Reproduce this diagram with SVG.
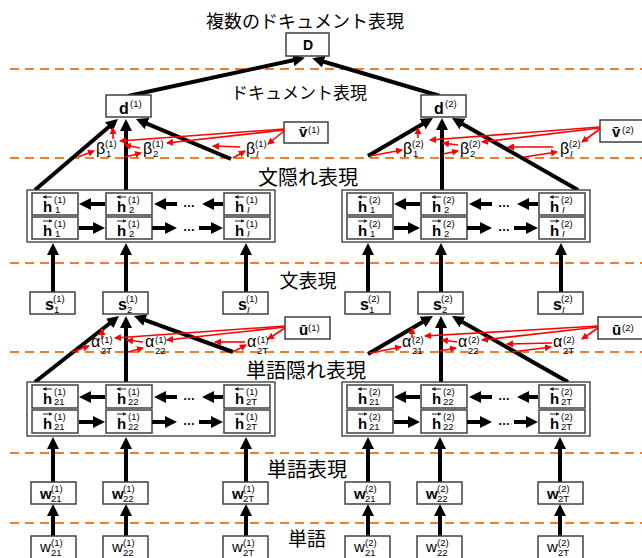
<svg xmlns="http://www.w3.org/2000/svg" width="642" height="558" viewBox="0 0 642 558">
<style>
.dash{stroke:#ED7D31;stroke-width:2;stroke-dasharray:9 6;fill:none}
.box{fill:#fff;stroke:#404040;stroke-width:1.5}
.outer{fill:#fff;stroke:#333;stroke-width:1.3}
.blk{stroke:#000;stroke-width:4;fill:none;marker-end:url(#ah)}
.red{stroke:#f00;stroke-width:1.6;fill:none;marker-end:url(#rh)}
.ha{stroke:#222;stroke-width:1;fill:none;marker-end:url(#hh)}
text{font-family:"Liberation Sans",Arial,sans-serif;fill:#000}
.jp{font-family:"Noto Sans CJK JP",sans-serif;text-anchor:middle}
.b{font-weight:bold}
.h{font-weight:bold;font-size:15px}
.sm{font-size:9.5px;font-weight:normal;font-style:normal}
.gr{font-size:16px}
.it{font-style:italic}
.dots{font-weight:bold;font-size:12px;text-anchor:middle}
</style>
<defs>
<marker id="ah" markerUnits="userSpaceOnUse" markerWidth="12" markerHeight="12" refX="6" refY="6" orient="auto"><path d="M0,0 L12,6 L0,12 z" fill="#000"/></marker>
<marker id="rh" markerUnits="userSpaceOnUse" markerWidth="7" markerHeight="7" refX="6" refY="3.5" orient="auto"><path d="M0,0 L7,3.5 L0,7 z" fill="#f00"/></marker>
<marker id="hh" markerUnits="userSpaceOnUse" markerWidth="4" markerHeight="4" refX="3.5" refY="2" orient="auto"><path d="M0,0 L4,2 L0,4 z" fill="#222"/></marker>
</defs>
<rect width="642" height="558" fill="#fff"/>

<g id="layer-lines">
<line class="dash" x1="10" y1="69" x2="642" y2="69"/>
<line class="dash" x1="10" y1="158" x2="642" y2="158"/>
<line class="dash" x1="10" y1="263" x2="642" y2="263"/>
<line class="dash" x1="10" y1="352" x2="642" y2="352"/>
<line class="dash" x1="10" y1="453" x2="642" y2="453"/>
<line class="dash" x1="10" y1="523" x2="642" y2="523"/>
</g>

<g id="layer-labels">
<text class="jp" x="305" y="28" font-size="18">複数のドキュメント表現</text>
<text class="jp" x="299" y="99" font-size="17">ドキュメント表現</text>
<text class="jp" x="308" y="185" font-size="20">文隠れ表現</text>
<text class="jp" x="308" y="288" font-size="19">文表現</text>
<text class="jp" x="306" y="378" font-size="20">単語隠れ表現</text>
<text class="jp" x="307" y="477" font-size="20">単語表現</text>
<text class="jp" x="307" y="546" font-size="19">単語</text>
</g>

<g id="connectors">
<line class="blk" x1="128" y1="96" x2="299" y2="59"/>
<line class="blk" x1="440" y1="96" x2="318" y2="60"/>
<line class="blk" x1="35" y1="190" x2="113.4" y2="122.9"/>
<line class="blk" x1="126" y1="190" x2="126" y2="125"/>
<line class="blk" x1="231" y1="159" x2="141.5" y2="121.3"/>
<line class="blk" x1="368" y1="156" x2="427.8" y2="121"/>
<line class="blk" x1="442" y1="190" x2="442" y2="124"/>
<line class="blk" x1="578" y1="190" x2="457.2" y2="121"/>
<line class="blk" x1="53" y1="292" x2="53" y2="249"/>
<line class="blk" x1="126" y1="292" x2="126" y2="249"/>
<line class="blk" x1="246" y1="292" x2="246" y2="249"/>
<line class="blk" x1="368" y1="292" x2="368" y2="249"/>
<line class="blk" x1="441" y1="292" x2="441" y2="249"/>
<line class="blk" x1="561" y1="292" x2="561" y2="249"/>
<line class="blk" x1="35" y1="382" x2="114.3" y2="319.7"/>
<line class="blk" x1="126" y1="382" x2="126" y2="322"/>
<line class="blk" x1="233" y1="352" x2="139.6" y2="318.1"/>
<line class="blk" x1="368" y1="354" x2="427.8" y2="319"/>
<line class="blk" x1="441" y1="382" x2="441" y2="322"/>
<line class="blk" x1="568" y1="382" x2="457.2" y2="319"/>
<line class="blk" x1="53" y1="482" x2="53" y2="443"/>
<line class="blk" x1="126" y1="482" x2="126" y2="443"/>
<line class="blk" x1="246" y1="482" x2="246" y2="443"/>
<line class="blk" x1="368" y1="482" x2="368" y2="443"/>
<line class="blk" x1="440" y1="482" x2="440" y2="443"/>
<line class="blk" x1="560" y1="482" x2="560" y2="443"/>
<line class="blk" x1="53" y1="536" x2="53" y2="510"/>
<line class="blk" x1="126" y1="536" x2="126" y2="510"/>
<line class="blk" x1="246" y1="536" x2="246" y2="510"/>
<line class="blk" x1="368" y1="536" x2="368" y2="510"/>
<line class="blk" x1="440" y1="536" x2="440" y2="510"/>
<line class="blk" x1="560" y1="536" x2="560" y2="510"/>
</g>

<g id="node-D"><rect class="box" x="286" y="33" width="43" height="23"/><text class="b" x="308" y="50" font-size="14" text-anchor="middle">D</text></g>
<g id="node-d1"><rect class="box" x="106" y="95" width="45" height="22"/><text class="b" x="119" y="114" font-size="16">d<tspan class="sm" x="130" y="107">(1)</tspan></text></g>
<g id="node-d2"><rect class="box" x="421" y="95" width="45" height="22"/><text class="b" x="434" y="114" font-size="16">d<tspan class="sm" x="445" y="107">(2)</tspan></text></g>
<g id="node-v1"><rect class="box" x="284" y="122" width="44" height="21"/><text class="b" x="299" y="137" font-size="15">v&#x304;<tspan class="sm" x="308" y="133">(1)</tspan></text></g>
<g id="node-v2"><rect class="box" x="600" y="120" width="50" height="22"/><text class="b" x="612" y="137" font-size="15">v&#x304;<tspan class="sm" x="622" y="133">(2)</tspan></text></g>
<g id="node-u1"><rect class="box" x="285" y="317" width="45" height="22"/><text class="b" x="299" y="335" font-size="15">ū<tspan class="sm" x="308" y="331">(1)</tspan></text></g>
<g id="node-u2"><rect class="box" x="598" y="317" width="50" height="22"/><text class="b" x="612" y="335" font-size="15">ū<tspan class="sm" x="622" y="331">(2)</tspan></text></g>

<g id="node-sent-hidden-1">
<rect class="outer" x="27" y="190" width="248" height="52"/>
<rect class="box" x="32" y="193" width="46" height="22"/><path class="ha" d="M52,197 H43"/><text class="h" x="43" y="212">h<tspan class="sm" x="54" y="203">(1)</tspan><tspan class="sm" x="55" y="213">1</tspan></text>
<rect class="box" x="106" y="193" width="46" height="22"/><path class="ha" d="M126,197 H117"/><text class="h" x="117" y="212">h<tspan class="sm" x="128" y="203">(1)</tspan><tspan class="sm" x="129" y="213">2</tspan></text>
<rect class="box" x="224" y="193" width="46" height="22"/><path class="ha" d="M244,197 H235"/><text class="h" x="235" y="212">h<tspan class="sm" x="246" y="203">(1)</tspan><tspan class="sm it" x="247" y="213">I</tspan></text>
<rect class="box" x="32" y="217" width="46" height="22"/><path class="ha" d="M43,221 H52"/><text class="h" x="43" y="236">h<tspan class="sm" x="54" y="227">(1)</tspan><tspan class="sm" x="55" y="237">1</tspan></text>
<rect class="box" x="106" y="217" width="46" height="22"/><path class="ha" d="M117,221 H126"/><text class="h" x="117" y="236">h<tspan class="sm" x="128" y="227">(1)</tspan><tspan class="sm" x="129" y="237">2</tspan></text>
<rect class="box" x="224" y="217" width="46" height="22"/><path class="ha" d="M235,221 H244"/><text class="h" x="235" y="236">h<tspan class="sm" x="246" y="227">(1)</tspan><tspan class="sm it" x="247" y="237">I</tspan></text>
<text class="dots" x="189" y="207">…</text><text class="dots" x="189" y="231">…</text>
</g>
<g id="node-sent-hidden-2">
<rect class="outer" x="342" y="190" width="248" height="52"/>
<rect class="box" x="347" y="193" width="46" height="22"/><path class="ha" d="M367,197 H358"/><text class="h" x="358" y="212">h<tspan class="sm" x="369" y="203">(2)</tspan><tspan class="sm" x="370" y="213">1</tspan></text>
<rect class="box" x="421" y="193" width="46" height="22"/><path class="ha" d="M441,197 H432"/><text class="h" x="432" y="212">h<tspan class="sm" x="443" y="203">(2)</tspan><tspan class="sm" x="444" y="213">2</tspan></text>
<rect class="box" x="539" y="193" width="46" height="22"/><path class="ha" d="M559,197 H550"/><text class="h" x="550" y="212">h<tspan class="sm" x="561" y="203">(2)</tspan><tspan class="sm it" x="562" y="213">I</tspan></text>
<rect class="box" x="347" y="217" width="46" height="22"/><path class="ha" d="M358,221 H367"/><text class="h" x="358" y="236">h<tspan class="sm" x="369" y="227">(2)</tspan><tspan class="sm" x="370" y="237">1</tspan></text>
<rect class="box" x="421" y="217" width="46" height="22"/><path class="ha" d="M432,221 H441"/><text class="h" x="432" y="236">h<tspan class="sm" x="443" y="227">(2)</tspan><tspan class="sm" x="444" y="237">2</tspan></text>
<rect class="box" x="539" y="217" width="46" height="22"/><path class="ha" d="M550,221 H559"/><text class="h" x="550" y="236">h<tspan class="sm" x="561" y="227">(2)</tspan><tspan class="sm it" x="562" y="237">I</tspan></text>
<text class="dots" x="504" y="207">…</text><text class="dots" x="504" y="231">…</text>
</g>

<g id="node-word-hidden-1">
<rect class="outer" x="27" y="382" width="248" height="54"/>
<rect class="box" x="32" y="385" width="46" height="23"/><path class="ha" d="M52,389 H43"/><text class="h" x="43" y="404">h<tspan class="sm" x="54" y="395">(1)</tspan><tspan class="sm" x="54" y="405">21</tspan></text>
<rect class="box" x="106" y="385" width="46" height="23"/><path class="ha" d="M126,389 H117"/><text class="h" x="117" y="404">h<tspan class="sm" x="128" y="395">(1)</tspan><tspan class="sm" x="128" y="405">22</tspan></text>
<rect class="box" x="224" y="385" width="46" height="23"/><path class="ha" d="M244,389 H235"/><text class="h" x="235" y="404">h<tspan class="sm" x="246" y="395">(1)</tspan><tspan class="sm" x="246" y="405">2T</tspan></text>
<rect class="box" x="32" y="410" width="46" height="23"/><path class="ha" d="M43,414 H52"/><text class="h" x="43" y="429">h<tspan class="sm" x="54" y="420">(1)</tspan><tspan class="sm" x="54" y="430">21</tspan></text>
<rect class="box" x="106" y="410" width="46" height="23"/><path class="ha" d="M117,414 H126"/><text class="h" x="117" y="429">h<tspan class="sm" x="128" y="420">(1)</tspan><tspan class="sm" x="128" y="430">22</tspan></text>
<rect class="box" x="224" y="410" width="46" height="23"/><path class="ha" d="M235,414 H244"/><text class="h" x="235" y="429">h<tspan class="sm" x="246" y="420">(1)</tspan><tspan class="sm" x="246" y="430">2T</tspan></text>
<text class="dots" x="189" y="400">…</text><text class="dots" x="189" y="425">…</text>
</g>
<g id="node-word-hidden-2">
<rect class="outer" x="342" y="382" width="248" height="54"/>
<rect class="box" x="347" y="385" width="46" height="23"/><path class="ha" d="M367,389 H358"/><text class="h" x="358" y="404">h<tspan class="sm" x="369" y="395">(2)</tspan><tspan class="sm" x="369" y="405">21</tspan></text>
<rect class="box" x="421" y="385" width="46" height="23"/><path class="ha" d="M441,389 H432"/><text class="h" x="432" y="404">h<tspan class="sm" x="443" y="395">(2)</tspan><tspan class="sm" x="443" y="405">22</tspan></text>
<rect class="box" x="539" y="385" width="46" height="23"/><path class="ha" d="M559,389 H550"/><text class="h" x="550" y="404">h<tspan class="sm" x="561" y="395">(2)</tspan><tspan class="sm" x="561" y="405">2T</tspan></text>
<rect class="box" x="347" y="410" width="46" height="23"/><path class="ha" d="M358,414 H367"/><text class="h" x="358" y="429">h<tspan class="sm" x="369" y="420">(2)</tspan><tspan class="sm" x="369" y="430">21</tspan></text>
<rect class="box" x="421" y="410" width="46" height="23"/><path class="ha" d="M432,414 H441"/><text class="h" x="432" y="429">h<tspan class="sm" x="443" y="420">(2)</tspan><tspan class="sm" x="443" y="430">22</tspan></text>
<rect class="box" x="539" y="410" width="46" height="23"/><path class="ha" d="M550,414 H559"/><text class="h" x="550" y="429">h<tspan class="sm" x="561" y="420">(2)</tspan><tspan class="sm" x="561" y="430">2T</tspan></text>
<text class="dots" x="504" y="400">…</text><text class="dots" x="504" y="425">…</text>
</g>

<g id="row-connectors">
<line class="blk" x1="105" y1="204" x2="85" y2="204"/><line class="blk" x1="177" y1="204" x2="160" y2="204"/><line class="blk" x1="223" y1="204" x2="208" y2="204"/>
<line class="blk" x1="79" y1="228" x2="99" y2="228"/><line class="blk" x1="152" y1="228" x2="171" y2="228"/><line class="blk" x1="199" y1="228" x2="217" y2="228"/>
<line class="blk" x1="420" y1="204" x2="400" y2="204"/><line class="blk" x1="492" y1="204" x2="475" y2="204"/><line class="blk" x1="538" y1="204" x2="523" y2="204"/>
<line class="blk" x1="394" y1="228" x2="414" y2="228"/><line class="blk" x1="467" y1="228" x2="486" y2="228"/><line class="blk" x1="514" y1="228" x2="532" y2="228"/>
<line class="blk" x1="105" y1="397" x2="85" y2="397"/><line class="blk" x1="177" y1="397" x2="160" y2="397"/><line class="blk" x1="223" y1="397" x2="208" y2="397"/>
<line class="blk" x1="79" y1="422" x2="99" y2="422"/><line class="blk" x1="152" y1="422" x2="171" y2="422"/><line class="blk" x1="199" y1="422" x2="217" y2="422"/>
<line class="blk" x1="420" y1="397" x2="400" y2="397"/><line class="blk" x1="492" y1="397" x2="475" y2="397"/><line class="blk" x1="538" y1="397" x2="523" y2="397"/>
<line class="blk" x1="394" y1="422" x2="414" y2="422"/><line class="blk" x1="467" y1="422" x2="486" y2="422"/><line class="blk" x1="514" y1="422" x2="532" y2="422"/>
</g>

<g id="node-s1-1"><rect class="box" x="30" y="292" width="45" height="22"/><text class="b" x="45" y="310" font-size="16">s<tspan class="sm" x="53" y="302">(1)</tspan><tspan class="sm" x="54" y="313">1</tspan></text></g>
<g id="node-s1-2"><rect class="box" x="103" y="292" width="45" height="22"/><text class="b" x="118" y="310" font-size="16">s<tspan class="sm" x="126" y="302">(1)</tspan><tspan class="sm" x="127" y="313">2</tspan></text></g>
<g id="node-s1-I"><rect class="box" x="223" y="292" width="45" height="22"/><text class="b" x="238" y="310" font-size="16">s<tspan class="sm" x="246" y="302">(1)</tspan><tspan class="sm it" x="247" y="313">I</tspan></text></g>
<g id="node-s2-1"><rect class="box" x="345" y="292" width="45" height="22"/><text class="b" x="360" y="310" font-size="16">s<tspan class="sm" x="368" y="302">(2)</tspan><tspan class="sm" x="369" y="313">1</tspan></text></g>
<g id="node-s2-2"><rect class="box" x="418" y="292" width="45" height="22"/><text class="b" x="433" y="310" font-size="16">s<tspan class="sm" x="441" y="302">(2)</tspan><tspan class="sm" x="442" y="313">2</tspan></text></g>
<g id="node-s2-I"><rect class="box" x="538" y="292" width="45" height="22"/><text class="b" x="553" y="310" font-size="16">s<tspan class="sm" x="561" y="302">(2)</tspan><tspan class="sm it" x="562" y="313">I</tspan></text></g>

<g id="node-we1-21"><rect class="box" x="31" y="482" width="45" height="22"/><text class="b" x="40" y="499" font-size="15">w<tspan class="sm" x="51" y="492">(1)</tspan><tspan class="sm" x="51" y="502">21</tspan></text></g>
<g id="node-we1-22"><rect class="box" x="103" y="482" width="45" height="22"/><text class="b" x="112" y="499" font-size="15">w<tspan class="sm" x="123" y="492">(1)</tspan><tspan class="sm" x="123" y="502">22</tspan></text></g>
<g id="node-we1-2T"><rect class="box" x="223" y="482" width="45" height="22"/><text class="b" x="232" y="499" font-size="15">w<tspan class="sm" x="243" y="492">(1)</tspan><tspan class="sm" x="243" y="502">2T</tspan></text></g>
<g id="node-we2-21"><rect class="box" x="345" y="482" width="45" height="22"/><text class="b" x="354" y="499" font-size="15">w<tspan class="sm" x="365" y="492">(2)</tspan><tspan class="sm" x="365" y="502">21</tspan></text></g>
<g id="node-we2-22"><rect class="box" x="417" y="482" width="45" height="22"/><text class="b" x="426" y="499" font-size="15">w<tspan class="sm" x="437" y="492">(2)</tspan><tspan class="sm" x="437" y="502">22</tspan></text></g>
<g id="node-we2-2T"><rect class="box" x="538" y="482" width="45" height="22"/><text class="b" x="547" y="499" font-size="15">w<tspan class="sm" x="558" y="492">(2)</tspan><tspan class="sm" x="558" y="502">2T</tspan></text></g>

<g id="node-w1-21"><rect class="box" x="31" y="536" width="45" height="24"/><text x="40" y="552" font-size="15">w<tspan class="sm" x="51" y="546">(1)</tspan><tspan class="sm" x="51" y="556">21</tspan></text></g>
<g id="node-w1-22"><rect class="box" x="103" y="536" width="45" height="24"/><text x="112" y="552" font-size="15">w<tspan class="sm" x="123" y="546">(1)</tspan><tspan class="sm" x="123" y="556">22</tspan></text></g>
<g id="node-w1-2T"><rect class="box" x="223" y="536" width="45" height="24"/><text x="232" y="552" font-size="15">w<tspan class="sm" x="243" y="546">(1)</tspan><tspan class="sm" x="243" y="556">2T</tspan></text></g>
<g id="node-w2-21"><rect class="box" x="345" y="536" width="45" height="24"/><text x="354" y="552" font-size="15">w<tspan class="sm" x="365" y="546">(2)</tspan><tspan class="sm" x="365" y="556">21</tspan></text></g>
<g id="node-w2-22"><rect class="box" x="417" y="536" width="45" height="24"/><text x="426" y="552" font-size="15">w<tspan class="sm" x="437" y="546">(2)</tspan><tspan class="sm" x="437" y="556">22</tspan></text></g>
<g id="node-w2-2T"><rect class="box" x="538" y="536" width="45" height="24"/><text x="547" y="552" font-size="15">w<tspan class="sm" x="558" y="546">(2)</tspan><tspan class="sm" x="558" y="556">2T</tspan></text></g>

<g id="attention-connectors">
<line class="red" x1="78" y1="157" x2="94" y2="151"/>
<line class="red" x1="113" y1="139" x2="113" y2="128"/>
<line class="red" x1="284" y1="129" x2="120" y2="141"/>
<line class="red" x1="125" y1="157" x2="141" y2="153"/>
<line class="red" x1="140" y1="148" x2="125" y2="145"/>
<line class="red" x1="284" y1="130" x2="167" y2="143"/>
<line class="red" x1="233" y1="158" x2="245" y2="151"/>
<line class="red" x1="240" y1="147" x2="213" y2="146"/>
<line class="red" x1="284" y1="131" x2="268" y2="144"/>
<line class="red" x1="370" y1="156" x2="402" y2="150"/>
<line class="red" x1="418" y1="138" x2="418" y2="128"/>
<line class="red" x1="600" y1="127" x2="430" y2="140"/>
<line class="red" x1="443" y1="154" x2="458" y2="151"/>
<line class="red" x1="458" y1="145" x2="443" y2="143"/>
<line class="red" x1="600" y1="128" x2="482" y2="142"/>
<line class="red" x1="524" y1="157" x2="557" y2="152"/>
<line class="red" x1="553" y1="147" x2="508" y2="147"/>
<line class="red" x1="600" y1="129" x2="582" y2="142"/>
<line class="red" x1="72" y1="352" x2="89" y2="346"/>
<line class="red" x1="102" y1="339" x2="102" y2="329"/>
<line class="red" x1="285" y1="326" x2="115" y2="338"/>
<line class="red" x1="128" y1="352" x2="143" y2="348"/>
<line class="red" x1="143" y1="342" x2="127" y2="340"/>
<line class="red" x1="285" y1="327" x2="167" y2="340"/>
<line class="red" x1="233" y1="352" x2="246" y2="345"/>
<line class="red" x1="245" y1="342" x2="215" y2="342"/>
<line class="red" x1="285" y1="328" x2="268" y2="339"/>
<line class="red" x1="370" y1="353" x2="401" y2="347"/>
<line class="red" x1="412" y1="338" x2="412" y2="328"/>
<line class="red" x1="598" y1="326" x2="425" y2="336"/>
<line class="red" x1="440" y1="351" x2="456" y2="348"/>
<line class="red" x1="457" y1="342" x2="442" y2="340"/>
<line class="red" x1="598" y1="327" x2="482" y2="340"/>
<line class="red" x1="512" y1="352" x2="551" y2="347"/>
<line class="red" x1="552" y1="343" x2="507" y2="344"/>
<line class="red" x1="598" y1="328" x2="582" y2="339"/>
</g>

<g id="attention-labels">
<text class="gr" x="96" y="154">β<tspan class="sm" x="105" y="147">(1)</tspan><tspan class="sm" x="106" y="157">1</tspan></text>
<text class="gr" x="143" y="154">β<tspan class="sm" x="152" y="147">(1)</tspan><tspan class="sm" x="153" y="157">2</tspan></text>
<text class="gr" x="246" y="154">β<tspan class="sm" x="255" y="147">(1)</tspan><tspan class="sm it" x="256" y="157">I</tspan></text>
<text class="gr" x="403" y="154">β<tspan class="sm" x="412" y="147">(2)</tspan><tspan class="sm" x="413" y="157">1</tspan></text>
<text class="gr" x="460" y="154">β<tspan class="sm" x="469" y="147">(2)</tspan><tspan class="sm" x="470" y="157">2</tspan></text>
<text class="gr" x="560" y="154">β<tspan class="sm" x="569" y="147">(2)</tspan><tspan class="sm it" x="570" y="157">I</tspan></text>
<text class="gr" x="91" y="347">α<tspan class="sm" x="101" y="342.5">(1)</tspan><tspan class="sm" x="101" y="353.5">2T</tspan></text>
<text class="gr" x="145" y="347">α<tspan class="sm" x="155" y="342.5">(1)</tspan><tspan class="sm" x="155" y="353.5">22</tspan></text>
<text class="gr" x="247" y="347">α<tspan class="sm" x="257" y="342.5">(1)</tspan><tspan class="sm" x="257" y="353.5">2T</tspan></text>
<text class="gr" x="402" y="347">α<tspan class="sm" x="412" y="342.5">(2)</tspan><tspan class="sm" x="412" y="353.5">21</tspan></text>
<text class="gr" x="458" y="347">α<tspan class="sm" x="468" y="342.5">(2)</tspan><tspan class="sm" x="468" y="353.5">22</tspan></text>
<text class="gr" x="553" y="347">α<tspan class="sm" x="563" y="342.5">(2)</tspan><tspan class="sm" x="563" y="353.5">2T</tspan></text>
</g>
</svg>
